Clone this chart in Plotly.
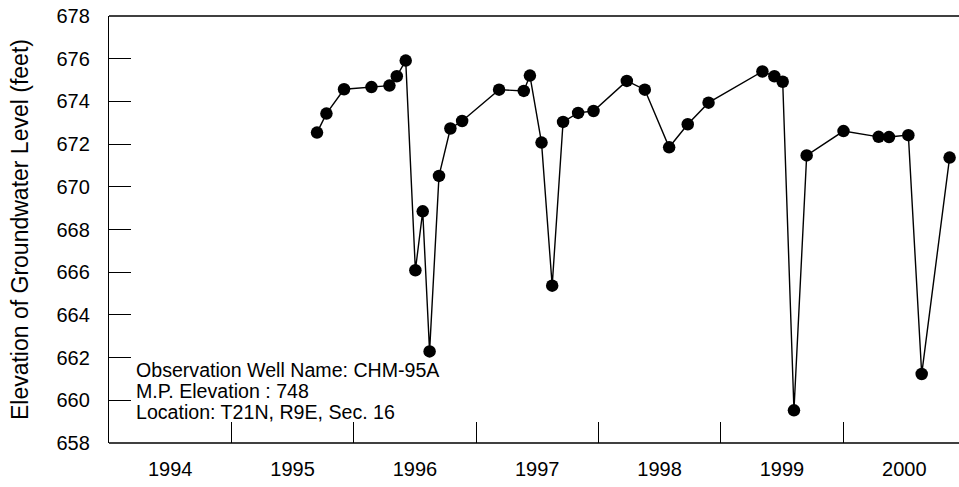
import plotly.graph_objects as go

# Observation dates (decimal years) and groundwater elevations (feet)
dates = [1995.70, 1995.777, 1995.921, 1996.145, 1996.292, 1996.352, 1996.425,
         1996.504, 1996.564, 1996.620, 1996.697, 1996.790, 1996.886, 1997.188,
         1997.390, 1997.440, 1997.535, 1997.622, 1997.711, 1997.834, 1997.960,
         1998.232, 1998.379, 1998.578, 1998.730, 1998.900, 1999.340, 1999.438,
         1999.506, 1999.598, 1999.702, 2000.003, 2000.290, 2000.375, 2000.533,
         2000.642, 2000.870]
elevation = [672.54, 673.43, 674.57, 674.67, 674.74, 675.18, 675.91,
             666.09, 668.85, 662.29, 670.51, 672.73, 673.08, 674.55,
             674.49, 675.21, 672.07, 665.37, 673.04, 673.46, 673.55,
             674.96, 674.55, 671.85, 672.93, 673.94, 675.40, 675.18,
             674.92, 659.53, 671.47, 672.61, 672.34, 672.33, 672.42,
             661.23, 671.37]

year_labels = ["1994", "1995", "1996", "1997", "1998", "1999", "2000"]
label_positions = [1994.5, 1995.5, 1996.5, 1997.5, 1998.5, 1999.5, 2000.5]
year_boundaries = [1995, 1996, 1997, 1998, 1999, 2000]
y_ticks = list(range(658, 679, 2))

info_lines = ["Observation Well Name: CHM-95A",
              "M.P. Elevation : 748",
              "Location: T21N, R9E, Sec. 16"]

FONT = "Liberation Sans, Arial, sans-serif"

fig = go.Figure()
fig.add_trace(go.Scatter(
    x=dates, y=elevation, mode="lines+markers",
    line=dict(color="black", width=1.4),
    marker=dict(color="black", size=12.5, symbol="circle"),
    showlegend=False, hoverinfo="x+y",
))

W, H = 959, 487
left, top, bottom = 109.4, 15.7, 442.7
right_px = W
px_per_year = 122.3
plot_w = right_px - left

fig.update_layout(
    template="none",
    width=W, height=H, autosize=False,
    margin=dict(l=left, r=W - right_px, t=top, b=H - bottom, pad=0,
                autoexpand=False),
    paper_bgcolor="white", plot_bgcolor="white",
    font=dict(family=FONT, color="black", size=20),
    xaxis=dict(
        range=[1994, 1994 + plot_w / px_per_year], showgrid=False, zeroline=False,
        automargin=False, showline=False,
        tickmode="array", tickvals=label_positions, ticktext=year_labels,
        ticks="", tickfont=dict(size=20, family=FONT),
        ticklabelstandoff=12,
        minor=dict(tickmode="array", tickvals=year_boundaries, ticks="inside",
                   ticklen=21, tickwidth=1.3, tickcolor="black", showgrid=False),
    ),
    yaxis=dict(
        range=[658, 678], showgrid=False, zeroline=False,
        automargin=False,
        showline=True, linecolor="black", linewidth=1.3, mirror=False,
        tickmode="array", tickvals=y_ticks,
        ticks="inside", ticklen=22, tickwidth=1.3, tickcolor="black",
        tickfont=dict(size=20, family=FONT),
        ticklabelstandoff=14,
    ),
)

# Mask the right-hand edge of the plot area (the reference has no right frame)
edge_x0 = (956.8 - left) / plot_w
fig.add_shape(type="rect", xref="paper", yref="paper",
              x0=edge_x0, x1=1, y0=-0.003, y1=1.003,
              fillcolor="white", line=dict(width=0), layer="above")

# Top and bottom frame lines running to the right edge
for yy in (0, 1):
    fig.add_shape(type="line", xref="paper", yref="paper", x0=0, x1=1,
                  y0=yy, y1=yy, line=dict(color="black", width=1.3),
                  layer="above")

# Y axis title
fig.add_annotation(
    text="Elevation of Groundwater Level (feet)",
    xref="paper", yref="paper",
    x=(20 - left) / plot_w, y=0.5,
    xanchor="center", yanchor="middle", textangle=-90,
    showarrow=False, font=dict(size=23, family=FONT, color="black"),
)

# Well information text
line_centers_px = [370, 391, 412]
for txt, cy in zip(info_lines, line_centers_px):
    fig.add_annotation(
        text=txt, xref="paper", yref="paper",
        x=(134 - left) / plot_w, y=(bottom - cy) / (bottom - top),
        xanchor="left", yanchor="middle", showarrow=False,
        font=dict(size=19.6, family=FONT, color="black"),
    )

fig.write_html(
    "out.html",
    config={"displayModeBar": False},
    post_script=("document.documentElement.style.overflow='hidden';"
                 "document.body.style.overflow='hidden';"
                 "document.body.style.margin='0';"),
)
